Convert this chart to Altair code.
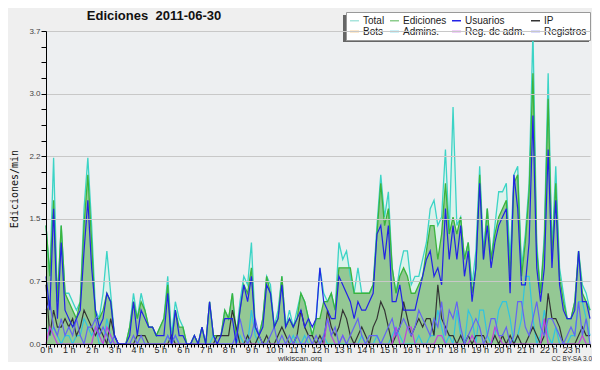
import altair as alt
import pandas as pd

# 10-minute bins, values in edits per minute
TOTAL = [
    1.4, 0.8, 2.2, 0.5, 1.4, 0.6,
    0.6, 0.5, 0.4, 0.5, 1.6, 2.2,
    1.4, 0.4, 0.3, 0.6, 1.1, 0.6,
    0.1, 0.0, 0.0, 0.0, 0.2, 0.6,
    0.3, 0.6, 0.4, 0.2, 0.2, 0.1,
    0.2, 0.3, 0.8, 0.1, 0.5, 0.3,
    0.2, 0.0, 0.0, 0.1, 0.0, 0.2,
    0.0, 0.5, 0.1, 0.1, 0.1, 0.4,
    0.3, 0.6, 0.1, 0.5, 0.8, 0.7,
    1.2, 0.2, 0.1, 0.3, 0.8, 0.7,
    0.2, 0.4, 0.8, 0.2, 0.4, 0.2,
    0.4, 0.6, 0.5, 0.3, 0.1, 0.3,
    0.9, 0.6, 0.5, 0.6, 0.4, 1.2,
    1.0, 1.1, 0.8, 0.6, 0.9, 0.6,
    0.6, 0.6, 0.7, 1.4, 2.0, 1.5,
    1.8, 0.9, 0.6, 0.9, 1.1, 1.1,
    0.7, 0.8, 0.8, 1.0, 1.2, 1.6,
    1.7, 1.4, 1.5, 2.3, 1.3, 2.8,
    1.4, 1.5, 1.0, 1.2, 0.7, 1.1,
    2.1, 1.1, 1.6, 1.0, 1.4, 1.8,
    1.8, 1.9, 1.0, 2.0, 2.1, 0.9,
    1.3, 1.9, 3.7, 1.2, 0.6, 1.3,
    3.2, 1.1, 2.1, 0.9, 0.6, 0.3,
    0.3, 0.5, 1.1, 0.7, 0.6, 0.4,
]

EDICIONES = [
    1.4, 0.8, 1.7, 0.5, 1.4, 0.6,
    0.5, 0.4, 0.3, 0.5, 1.4, 2.0,
    1.2, 0.3, 0.3, 0.4, 0.6, 0.5,
    0.1, 0.0, 0.0, 0.0, 0.2, 0.5,
    0.3, 0.5, 0.4, 0.2, 0.2, 0.1,
    0.2, 0.3, 0.7, 0.0, 0.4, 0.2,
    0.2, 0.0, 0.0, 0.1, 0.0, 0.2,
    0.0, 0.5, 0.1, 0.1, 0.1, 0.4,
    0.3, 0.6, 0.1, 0.4, 0.7, 0.6,
    0.9, 0.2, 0.1, 0.3, 0.8, 0.6,
    0.2, 0.3, 0.8, 0.2, 0.3, 0.2,
    0.3, 0.6, 0.5, 0.3, 0.1, 0.3,
    0.3, 0.5, 0.5, 0.6, 0.4, 0.9,
    0.9, 0.9, 0.9, 0.6, 0.6, 0.6,
    0.6, 0.6, 0.7, 1.3, 1.9, 1.4,
    1.6, 0.9, 0.6, 0.8, 0.9, 0.8,
    0.6, 0.6, 0.7, 0.8, 1.1, 1.4,
    1.4, 1.0, 1.3, 1.9, 1.3, 1.5,
    1.3, 1.5, 1.0, 1.2, 0.6, 0.9,
    2.0, 1.0, 1.6, 1.0, 1.3, 1.5,
    1.6, 1.7, 0.8, 1.9, 2.0, 0.8,
    1.2, 1.8, 3.2, 1.1, 0.6, 1.2,
    2.9, 1.0, 1.9, 0.8, 0.5, 0.3,
    0.3, 0.5, 1.1, 0.6, 0.5, 0.4,
]

USUARIOS = [
    0.8, 0.4, 1.6, 0.3, 1.2, 0.4,
    0.3, 0.2, 0.3, 0.4, 1.1, 1.7,
    0.9, 0.4, 0.2, 0.3, 0.6, 0.5,
    0.1, 0.0, 0.0, 0.0, 0.1, 0.5,
    0.1, 0.4, 0.3, 0.2, 0.2, 0.1,
    0.1, 0.1, 0.6, 0.0, 0.4, 0.1,
    0.1, 0.0, 0.0, 0.1, 0.0, 0.2,
    0.0, 0.5, 0.1, 0.0, 0.1, 0.3,
    0.3, 0.3, 0.0, 0.4, 0.7, 0.5,
    0.8, 0.2, 0.1, 0.2, 0.7, 0.6,
    0.2, 0.3, 0.7, 0.2, 0.3, 0.2,
    0.3, 0.4, 0.2, 0.3, 0.2, 0.3,
    0.9, 0.5, 0.4, 0.3, 0.3, 0.8,
    0.7, 0.6, 0.5, 0.3, 0.5, 0.4,
    0.4, 0.5, 0.6, 1.3, 1.4, 1.0,
    1.4, 0.5, 0.5, 0.7, 0.4, 0.4,
    0.4, 0.4, 0.6, 0.8, 1.0, 1.1,
    0.8, 0.9, 0.7, 1.6, 1.0, 1.4,
    1.0, 1.4, 0.8, 1.1, 0.5, 0.9,
    1.9, 1.0, 1.4, 0.9, 1.2, 1.4,
    1.5, 1.6, 0.6, 2.0, 1.6, 0.7,
    0.7, 1.2, 2.7, 0.9, 0.5, 0.9,
    2.3, 0.9, 1.7, 0.7, 0.4, 0.3,
    0.3, 0.4, 1.1, 0.5, 0.5, 0.3,
]

IP = [
    0.7, 0.1, 0.4, 0.2, 0.2, 0.3,
    0.2, 0.3, 0.1, 0.2, 0.4, 0.3,
    0.2, 0.1, 0.2, 0.1, 0.0, 0.3,
    0.1, 0.0, 0.0, 0.0, 0.0, 0.0,
    0.1, 0.1, 0.1, 0.0, 0.0, 0.0,
    0.0, 0.0, 0.0, 0.1, 0.0, 0.0,
    0.0, 0.0, 0.0, 0.0, 0.0, 0.0,
    0.0, 0.0, 0.0, 0.1, 0.1, 0.1,
    0.1, 0.4, 0.2, 0.0, 0.0, 0.1,
    0.0, 0.0, 0.1, 0.0, 0.1, 0.0,
    0.0, 0.1, 0.2, 0.1, 0.0, 0.0,
    0.1, 0.4, 0.2, 0.1, 0.1, 0.0,
    0.1, 0.0, 0.4, 0.2, 0.1, 0.2,
    0.4, 0.3, 0.1, 0.0, 0.1, 0.2,
    0.1, 0.0, 0.2, 0.3, 0.5, 0.4,
    0.2, 0.0, 0.1, 0.2, 0.5, 0.3,
    0.1, 0.2, 0.3, 0.2, 0.3, 0.3,
    0.1, 0.7, 0.3, 0.2, 0.1, 0.1,
    0.0, 0.1, 0.0, 0.1, 0.0, 0.1,
    0.1, 0.1, 0.0, 0.0, 0.1, 0.0,
    0.1, 0.0, 0.1, 0.0, 0.1, 0.0,
    0.0, 0.1, 0.2, 0.1, 0.0, 0.1,
    0.6, 0.3, 0.3, 0.2, 0.0, 0.0,
    0.0, 0.0, 0.1, 0.2, 0.1, 0.1,
]

ADMINS = [
    0.2, 0.1, 0.2, 0.1, 0.0, 0.1,
    0.1, 0.0, 0.1, 0.1, 0.3, 0.2,
    0.1, 0.2, 0.0, 0.0, 0.3, 0.1,
    0.0, 0.0, 0.0, 0.0, 0.0, 0.0,
    0.0, 0.0, 0.0, 0.0, 0.0, 0.0,
    0.0, 0.0, 0.1, 0.0, 0.1, 0.0,
    0.0, 0.0, 0.0, 0.0, 0.0, 0.0,
    0.0, 0.0, 0.1, 0.0, 0.0, 0.0,
    0.0, 0.0, 0.0, 0.1, 0.0, 0.0,
    0.4, 0.1, 0.0, 0.0, 0.0, 0.0,
    0.0, 0.0, 0.0, 0.0, 0.0, 0.1,
    0.0, 0.0, 0.1, 0.0, 0.0, 0.0,
    0.0, 0.1, 0.0, 0.0, 0.0, 0.0,
    0.0, 0.0, 0.0, 0.0, 0.0, 0.1,
    0.0, 0.0, 0.0, 0.1, 0.0, 0.0,
    0.0, 0.1, 0.2, 0.1, 0.0, 0.0,
    0.0, 0.0, 0.1, 0.0, 0.0, 0.1,
    0.1, 0.4, 0.2, 0.0, 0.1, 0.0,
    0.4, 0.1, 0.0, 0.4, 0.3, 0.0,
    0.4, 0.4, 0.1, 0.0, 0.1, 0.4,
    0.5, 0.5, 0.3, 0.0, 0.1, 0.3,
    0.8, 0.8, 0.3, 0.0, 0.1, 0.4,
    0.1, 0.0, 0.2, 0.0, 0.0, 0.0,
    0.1, 0.1, 0.5, 0.5, 0.3, 0.1,
]

REGISTROS = [
    0.4, 0.5, 0.2, 0.1, 0.3, 0.1,
    0.2, 0.1, 0.3, 0.1, 0.0, 0.2,
    0.2, 0.3, 0.1, 0.2, 0.1, 0.0,
    0.1, 0.0, 0.0, 0.0, 0.0, 0.1,
    0.0, 0.1, 0.0, 0.0, 0.0, 0.0,
    0.0, 0.0, 0.1, 0.0, 0.1, 0.0,
    0.0, 0.0, 0.0, 0.0, 0.0, 0.0,
    0.0, 0.0, 0.0, 0.0, 0.0, 0.0,
    0.0, 0.0, 0.1, 0.3, 0.1, 0.0,
    0.1, 0.3, 0.1, 0.0, 0.0, 0.1,
    0.2, 0.0, 0.1, 0.0, 0.1, 0.0,
    0.1, 0.0, 0.0, 0.1, 0.0, 0.1,
    0.0, 0.1, 0.3, 0.1, 0.2, 0.0,
    0.1, 0.0, 0.1, 0.2, 0.3, 0.1,
    0.0, 0.1, 0.1, 0.1, 0.0, 0.1,
    0.2, 0.3, 0.1, 0.2, 0.3, 0.2,
    0.1, 0.2, 0.4, 0.3, 0.2, 0.1,
    0.3, 0.2, 0.5, 0.1, 0.4, 0.3,
    0.5, 0.2, 0.0, 0.1, 0.2, 0.3,
    0.2, 0.0, 0.1, 0.3, 0.3, 0.1,
    0.1, 0.2, 0.0, 0.1, 0.5, 0.5,
    0.2, 0.1, 0.3, 0.5, 0.2, 0.1,
    0.3, 0.3, 0.2, 0.1, 0.0, 0.1,
    0.2, 0.1, 0.5, 0.1, 0.3, 0.0,
]

REG_ADM = [
    0.0, 0.2, 0.1, 0.0, 0.0, 0.0,
    0.0, 0.0, 0.0, 0.0, 0.0, 0.0,
    0.0, 0.2, 0.1, 0.0, 0.2, 0.1,
    0.0, 0.0, 0.0, 0.0, 0.0, 0.0,
    0.0, 0.0, 0.0, 0.0, 0.0, 0.0,
    0.0, 0.0, 0.0, 0.0, 0.0, 0.0,
    0.0, 0.0, 0.0, 0.0, 0.0, 0.0,
    0.0, 0.0, 0.0, 0.0, 0.0, 0.0,
    0.0, 0.0, 0.0, 0.0, 0.0, 0.0,
    0.0, 0.0, 0.0, 0.0, 0.0, 0.0,
    0.0, 0.0, 0.0, 0.0, 0.0, 0.0,
    0.0, 0.0, 0.0, 0.0, 0.0, 0.0,
    0.0, 0.0, 0.3, 0.1, 0.0, 0.0,
    0.1, 0.0, 0.0, 0.0, 0.0, 0.0,
    0.0, 0.0, 0.0, 0.0, 0.0, 0.0,
    0.0, 0.0, 0.2, 0.0, 0.0, 0.2,
    0.2, 0.0, 0.0, 0.0, 0.0, 0.0,
    0.0, 0.1, 0.1, 0.0, 0.0, 0.0,
    0.0, 0.0, 0.0, 0.0, 0.1, 0.0,
    0.0, 0.0, 0.0, 0.0, 0.2, 0.1,
    0.0, 0.0, 0.0, 0.0, 0.0, 0.0,
    0.0, 0.0, 0.0, 0.0, 0.0, 0.3,
    0.0, 0.0, 0.0, 0.0, 0.0, 0.0,
    0.0, 0.0, 0.0, 0.1, 0.0, 0.0,
]

SERIES = ["Total", "Ediciones", "Usuarios", "IP", "Bots", "Admins.", "Reg. de adm.", "Registros"]
LEGEND_COLORS = ["#a8e4dc", "#8ccc8c", "#2222e6", "#333333", "#f0a030", "#30c4e0", "#c040e0", "#6464f2"]

N = len(TOTAL)
HOURS = [i / 6 for i in range(N)]

df = pd.DataFrame({
    "h": HOURS,
    "Total": TOTAL,
    "Ediciones": EDICIONES,
    "Usuarios": USUARIOS,
    "IP": IP,
    "Admins.": ADMINS,
    "Reg. de adm.": REG_ADM,
    "Registros": REGISTROS,
})

long_df = df.melt(id_vars="h", value_vars=["Admins.", "IP", "Reg. de adm.", "Registros", "Usuarios"],
                  var_name="serie", value_name="v")
order_map = {"Admins.": 0, "IP": 1, "Reg. de adm.": 2, "Registros": 3, "Usuarios": 4}
long_df["ord"] = long_df["serie"].map(order_map)

MAJOR = "abs(datum.value/0.74 - round(datum.value/0.74)) < 0.01"

x_enc = alt.X(
    "h:Q",
    scale=alt.Scale(domain=[0, HOURS[-1]], nice=False, zero=False),
    axis=alt.Axis(
        values=HOURS, title=None, grid=False, tickSize=3, tickColor="#000",
        domainColor="#000", labelExpr="abs(datum.value - round(datum.value)) < 0.01 ? round(datum.value) + ' h' : ''",
        labelFont="Liberation Sans", labelFontSize=9, labelColor="#222", labelPadding=-2,
        labelOverlap=False, labelFlush=False, zindex=1,
    ),
)

y_scale = alt.Scale(domain=[0, 3.7], nice=False, zero=True)
y_axis = alt.Axis(
    values=[round(k * 0.185, 3) for k in range(21)],
    title=None, tickSize=5, tickColor="#000", domainColor="#000",
    labelExpr=MAJOR + " ? format(datum.value, '.1f') : ''",
    labelFont="Liberation Sans", labelFontSize=8, labelColor="#444", labelPadding=1,
    labelOverlap=False, labelFlush=False,
    gridColor="#c8c8c8",
    gridOpacity={"condition": {"test": MAJOR + " && datum.value > 0", "value": 1}, "value": 0},
    zindex=1,
)

base = alt.Chart(df)

total_area = base.mark_area(color="#dcf2ec", opacity=1).encode(
    x=x_enc, y=alt.Y("Total:Q", scale=y_scale, axis=y_axis))
edit_area = base.mark_area(color="#94c894", opacity=1).encode(
    x=x_enc, y=alt.Y("Ediciones:Q", scale=y_scale, axis=y_axis))
total_line = base.mark_line(color="#3cd4c6", strokeWidth=1.3).encode(
    x=x_enc, y=alt.Y("Total:Q", scale=y_scale, axis=y_axis))
edit_line = base.mark_line(color="#3cb43c", strokeWidth=1.3).encode(
    x=x_enc, y=alt.Y("Ediciones:Q", scale=y_scale, axis=y_axis))

lines = alt.Chart(long_df).mark_line(strokeWidth=1.2).encode(
    x=x_enc,
    y=alt.Y("v:Q", scale=y_scale, axis=y_axis),
    color=alt.Color(
        "serie:N",
        scale=alt.Scale(domain=SERIES, range=LEGEND_COLORS),
        legend=alt.Legend(
            title=None, orient="none", legendX=300, legendY=-19, direction="horizontal",
            columns=4, symbolType="stroke", symbolSize=81, symbolStrokeWidth=1.5,
            labelFont="Liberation Sans", labelFontSize=10, labelColor="#222",
            labelOffset=3, padding=3, rowPadding=0, columnPadding=2,
            fillColor="#ffffff", strokeColor="#999999", symbolLimit=0, labelLimit=0,
        ),
    ),
    order=alt.Order("ord:Q"),
)

one = pd.DataFrame({"a": [0]})
shadow = alt.Chart(one).mark_rect(color="#666666").encode(
    x=alt.value(297), x2=alt.value(543), y=alt.value(-16), y2=alt.value(11))

title = alt.Chart(one).mark_text(
    text="Ediciones\u00a0 2011-06-30", font="Liberation Sans", fontSize=13, fontWeight="bold",
    align="center", baseline="middle", color="#111").encode(x=alt.value(108), y=alt.value(-15))
ytitle = alt.Chart(one).mark_text(
    text="Ediciones/min", font="DejaVu Sans Mono", fontSize=10, angle=270,
    align="center", baseline="middle", color="#111").encode(x=alt.value(-31), y=alt.value(158))
site = alt.Chart(one).mark_text(
    text="wikiscan.org", font="Liberation Sans", fontSize=8,
    align="center", baseline="alphabetic", color="#333").encode(x=alt.value(254), y=alt.value(330))
lic = alt.Chart(one).mark_text(
    text="CC BY-SA 3.0", font="Liberation Sans", fontSize=6.5,
    align="right", baseline="alphabetic", color="#333").encode(x=alt.value(546), y=alt.value(330))

chart = alt.layer(
    total_area, edit_area, shadow, total_line, edit_line, lines, title, ytitle, site, lic
).properties(
    width=544, height=313, autosize="none",
    padding={"left": 38, "top": 23, "right": 2, "bottom": 18},
).configure(background="#efefef").configure_view(fill="#edeff1", stroke=None)

chart.save("out.html", embed_options={"renderer": "svg", "actions": False})
